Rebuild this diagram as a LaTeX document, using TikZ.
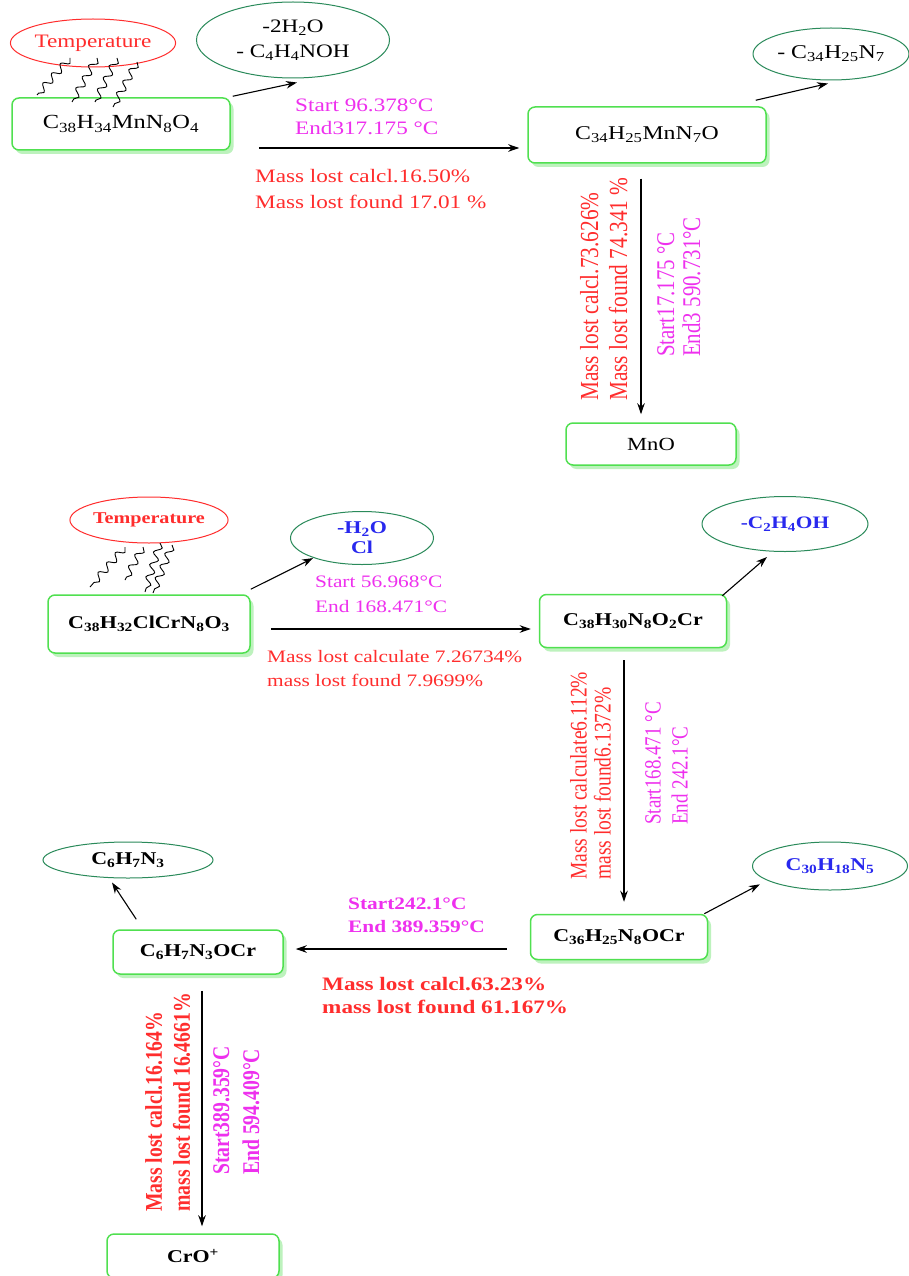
\documentclass[tikz,border=0pt]{standalone}
\usepackage{fontspec}
\setmainfont{Liberation Serif}[FakeStretch=1.22]
\newfontfamily\vfont{Liberation Serif}[FakeStretch=0.82]
\usetikzlibrary{arrows.meta,shapes.geometric,shadows,decorations.pathmorphing,calc}
\definecolor{boxg}{HTML}{50E050}
\definecolor{shadg}{HTML}{BDF2BD}
\definecolor{ellg}{HTML}{2A8A5A}
\definecolor{mag}{HTML}{EE30EE}
\definecolor{myred}{HTML}{FF2D2D}
\definecolor{myblue}{HTML}{2828EE}
\newcommand{\sbs}[1]{\textsubscript{#1}}
\newcommand{\fsz}[2]{\fontsize{#1}{#2}\selectfont}
\begin{document}
\begin{tikzpicture}[x=1pt,y=-1pt,
  box/.style={draw=boxg, line width=1.5pt, rounded corners=7pt, fill=white, inner sep=0pt,
    drop shadow={fill=shadg, opacity=1, shadow xshift=3.5pt, shadow yshift=-4pt}},
  ell/.style={ellipse, draw=ellg, line width=1pt, inner sep=0pt, align=center},
  tell/.style={ellipse, draw=myred, line width=1pt, inner sep=0pt, text=myred},
  arr/.style={-{Stealth[length=11pt,width=7.5pt]}, line width=1.1pt},
  wavy/.style={decorate, decoration={snake, amplitude=3.6pt, segment length=13pt}, line width=0.9pt},
  lbl/.style={inner sep=0pt, anchor=north west, align=left},
  vlbl/.style={inner sep=0pt, anchor=north west, align=left, rotate=90},
]
\fill[white] (0,0) rectangle (909,1276);
\useasboundingbox (0,0) rectangle (909,1276);

% ---------------- Row 1 (Mn complex) ----------------
\node[box, minimum width=218, minimum height=52, font=\fsz{20}{24}] (b1) at (121,124) {C\sbs{38}H\sbs{34}MnN\sbs{8}O\sbs{4}};
\node[tell, minimum width=160, minimum height=48, font=\fsz{19}{22}] (t1) at (93,43) {Temperature};
\node[ell, minimum width=193, minimum height=76, font=\fsz{19}{25}] (e1) at (293,40) {-2H\sbs{2}O\\- C\sbs{4}H\sbs{4}NOH};
\node[box, minimum width=238, minimum height=56, font=\fsz{19.5}{24}] (b2) at (647,135) {C\sbs{34}H\sbs{25}MnN\sbs{7}O};
\node[ell, minimum width=156, minimum height=52, font=\fsz{19.5}{24}] (e2) at (831,54) {- C\sbs{34}H\sbs{25}N\sbs{7}};
\node[box, minimum width=170, minimum height=42, font=\fsz{18.5}{22}] (b3) at (651,444) {MnO};

\node[lbl, text=mag, font=\fsz{19}{23}] (l1a) at (295,99) {Start 96.378°C\\End317.175 °C};
\node[lbl, text=myred, font=\fsz{19}{26}] (l1b) at (255,169) {Mass lost calcl.16.50\%\\Mass lost found 17.01 \%};
\node[vlbl, text=myred, font=\vfont\fsz{26}{29}] (l1c) at (580,401) {Mass lost calcl.73.626\%\\Mass lost found 74.341 \%};
\node[vlbl, text=mag, font=\vfont\fsz{25.5}{26}] (l1d) at (657,357) {Start17.175 °C\\End3 590.731°C};

\foreach \ax/\ay/\bx/\by in {-23/15/-84/-29, 4/15/-49/-22, 24/15/-26/-22, 44/19/-8/-17}
  \draw[wavy] ($(t1.center)+(\ax,\ay)$) -- ($(b1.center)+(\bx,\by)$);

\draw[arr] ($(b1.north east)+(2,-1)$) -- ($(e1.south)+(4,4)$);
\draw[arr] ($(b1.east)+(28,24)$) -- ($(b2.west)+(-8,13)$);
\draw[arr] ($(b2.north east)+(-11,-6)$) -- ($(e2.south)+(-3,3)$);
\draw[arr] ($(b2.south)+(-6,15)$) -- ($(b3.north)+(-10,-8)$);

% ---------------- Row 2 (Cr complex) ----------------
\node[box, minimum width=202, minimum height=58, font=\bfseries\fsz{18}{22}] (c1) at (149,624) {C\sbs{38}H\sbs{32}ClCrN\sbs{8}O\sbs{3}};
\node[tell, minimum width=138, minimum height=46, font=\bfseries\fsz{16.5}{20}] (t2) at (149,520) {Temperature};
\node[ell, minimum width=143, minimum height=53, font=\bfseries\fsz{18}{20}, text=myblue] (e4) at (362,538) {-H\sbs{2}O\\Cl};
\node[box, minimum width=187, minimum height=53, font=\bfseries\fsz{18}{22}] (c2) at (633,621) {C\sbs{38}H\sbs{30}N\sbs{8}O\sbs{2}Cr};
\node[ell, minimum width=166, minimum height=55, font=\bfseries\fsz{17.5}{20}, text=myblue] (e5) at (785,524) {-C\sbs{2}H\sbs{4}OH};

\node[lbl, text=mag, font=\fsz{17.5}{25}] (l2a) at (315,576) {Start 56.968°C\\End 168.471°C};
\node[lbl, text=myred, font=\fsz{17.5}{24}] (l2b) at (267,650) {Mass lost calculate 7.26734\%\\mass lost found 7.9699\%};
\node[vlbl, text=myred, font=\vfont\fsz{23.8}{24}] (l2c) at (570,880) {Mass lost calculate6.112\%\\mass lost found6.1372\%};
\node[vlbl, text=mag, font=\vfont\fsz{23.2}{27}] (l2d) at (645,825) {Start168.471 °C\\End 242.1°C};

\foreach \ax/\ay/\bx/\by in {-24/27/-59/-37, -6/27/-24/-44, 11/23/-4/-32, 23/25/4/-31}
  \draw[wavy] ($(t2.center)+(\ax,\ay)$) -- ($(c1.center)+(\bx,\by)$);

\draw[arr] ($(c1.north east)+(0,-5)$) -- ($(e4.south west)+(2,1)$);
\draw[arr] ($(c1.east)+(20,5)$) -- ($(c2.west)+(-8,8)$);
\draw[arr] ($(c2.north east)+(-5,2)$) -- ($(e5.south)+(-18,5)$);

% ---------------- Row 3 ----------------
\node[box, minimum width=177, minimum height=45, font=\bfseries\fsz{18}{22}] (c3) at (619,937) {C\sbs{36}H\sbs{25}N\sbs{8}OCr};
\node[ell, minimum width=155, minimum height=48, font=\bfseries\fsz{18}{22}, text=myblue] (e6) at (830,866) {C\sbs{30}H\sbs{18}N\sbs{5}};
\node[box, minimum width=170, minimum height=44, font=\bfseries\fsz{18}{22}] (c4) at (198,952) {C\sbs{6}H\sbs{7}N\sbs{3}OCr};
\node[ell, minimum width=170, minimum height=36, font=\bfseries\fsz{18}{22}] (e7) at (128,860) {C\sbs{6}H\sbs{7}N\sbs{3}};
\node[box, minimum width=172, minimum height=44, font=\bfseries\fsz{18}{22}] (c5) at (193,1256) {CrO\textsuperscript{+}};

\node[lbl, text=mag, font=\bfseries\fsz{17.5}{23}] (l3a) at (348,898) {Start242.1°C\\End 389.359°C};
\node[lbl, text=myred, font=\bfseries\fsz{19}{23}] (l3b) at (322,977) {Mass lost calcl.63.23\%\\mass lost found 61.167\%};
\node[vlbl, text=myred, font=\vfont\bfseries\fsz{24}{28}] (l3c) at (145,1212) {Mass lost calcl.16.164\%\\mass lost found 16.4661\%};
\node[vlbl, text=mag, font=\vfont\bfseries\fsz{24}{30}] (l3d) at (213,1175) {Start389.359°C\\End 594.409°C};

\draw[arr] ($(c2.south)+(-9,12)$) -- ($(c3.north)+(5,-12)$);
\draw[arr] ($(c3.north east)+(-4,0)$) -- ($(e6.south west)+(-15,1)$);
\draw[arr] ($(c3.west)+(-23,12)$) -- ($(c4.east)+(12,-3)$);
\draw[arr] ($(c4.north west)+(24,-10)$) -- ($(e7.south)+(-16,4)$);
\draw[arr] ($(c4.south)+(4,16)$) -- ($(c5.north)+(9,-7)$);
\end{tikzpicture}
\end{document}
